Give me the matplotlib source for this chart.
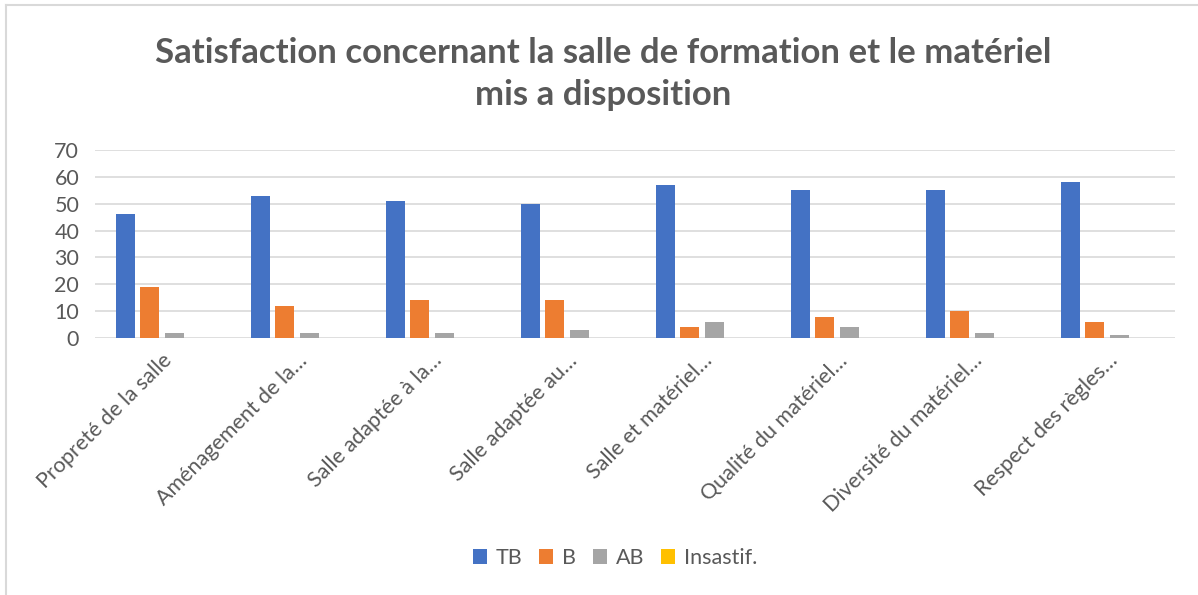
import matplotlib
matplotlib.use("Agg")
import matplotlib.pyplot as plt
import numpy as np
from matplotlib.lines import Line2D
from matplotlib.patches import Patch

categories = ["Propreté de la salle", "Aménagement de la…", "Salle adaptée à la…",
              "Salle adaptée au…", "Salle et matériel…", "Qualité du matériel…",
              "Diversité du matériel…", "Respect des règles…"]
series_names = ["TB", "B", "AB", "Insastif."]
tb = [46, 53, 51, 50, 57, 55, 55, 58]
b = [19, 12, 14, 14, 4, 8, 10, 6]
ab = [2, 2, 2, 3, 6, 4, 2, 1]
insastif = [0, 0, 0, 0, 0, 0, 0, 0]
yticks = [0, 10, 20, 30, 40, 50, 60, 70]

colors = ["#4472C4", "#ED7D31", "#A5A5A5", "#FFC000"]
text_color = "#595959"
font = ["Lato", "DejaVu Sans"]
plt.rcParams['font.family'] = font
fs = 15.5

W, H = 1198, 595
fig = plt.figure(figsize=(W / 100, H / 100), dpi=100)
ax = fig.add_axes([94.5 / W, 1 - 338 / H, 1080 / W, 188 / H])

x = np.arange(len(categories))
step = 0.181
width = 0.141
for i, (vals, c) in enumerate(zip([tb, b, ab, insastif], colors)):
    ax.bar(x + (i - 1.5) * step, vals, width, color=c, label=series_names[i], zorder=3)

ax.set_xlim(-0.5, len(categories) - 0.5)
ax.set_ylim(0, 70)
ax.set_yticks(yticks)
ax.yaxis.grid(True, color="#D9D9D9", linewidth=1.2, zorder=0)
for s in ax.spines.values():
    s.set_visible(False)
ax.tick_params(axis="both", length=0, colors=text_color, labelsize=fs)
ax.tick_params(axis="y", pad=11)
ax.set_xticks(x)
ax.set_xticklabels(categories, rotation=45, ha="right", rotation_mode="anchor",
                   color=text_color, fontsize=fs)
ax.tick_params(axis="x", pad=9)

fig.text(603 / W, 1 - 74 / H,
         "Satisfaction concernant la salle de formation et le matériel\nmis a disposition",
         ha="center", va="center", fontsize=25, fontweight="bold", color=text_color,
         linespacing=1.4)

handles = [Patch(facecolor=c, edgecolor="none") for c in colors]
fig.legend(handles, series_names, loc="center", bbox_to_anchor=(615 / W, 1 - 558 / H),
           ncol=4, frameon=False, fontsize=fs, labelcolor=text_color,
           handlelength=0.65, handleheight=0.65, handletextpad=0.4, columnspacing=0.8)

fig.add_artist(Line2D([5.5 / W, 5.5 / W], [0, 1 - 5 / H], color="#D9D9D9", linewidth=1.5,
                      transform=fig.transFigure))
fig.add_artist(Line2D([5.5 / W, 1], [1 - 5 / H, 1 - 5 / H], color="#D9D9D9", linewidth=1.5,
                      transform=fig.transFigure))

fig.savefig("out.png", dpi=100, facecolor="white")
